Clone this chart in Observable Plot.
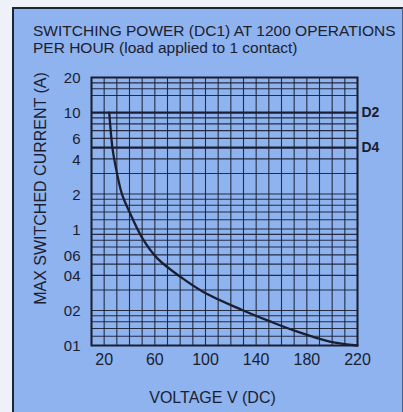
<!DOCTYPE html>
<html>
<head>
<meta charset="utf-8">
<script src="https://cdn.jsdelivr.net/npm/d3@7"></script>
<script src="https://cdn.jsdelivr.net/npm/@observablehq/plot@0.6"></script>
<style>
  html, body { margin: 0; padding: 0; background: #eef2f8; }
  #wrap { position: relative; width: 403px; height: 412px; overflow: hidden; font-family: "Liberation Sans", Arial, sans-serif; }
  #panel { position: absolute; left: 12px; top: 7px; width: 388px; height: 410px; background: #8eb3ee; border-left: 2px solid #1e2433; border-top: 2px solid #1e2433; border-right: 1px solid #46608a; }
  #title { position: absolute; left: 33px; top: 22px; font-size: 15.5px; line-height: 17px; color: #1c2030; white-space: nowrap; }
  #chart { position: absolute; left: 0; top: 0; }
</style>
</head>
<body>
<div id="wrap">
  <div id="panel"></div>
  <div id="chart"></div>
  <div id="title">SWITCHING POWER (DC1) AT 1200 OPERATIONS<br>PER HOUR (load applied to 1 contact)</div>
</div>
<script>
// Curve: max switched current (A) vs voltage (V DC)
const voltage = [24, 26.5, 28.5, 34, 40, 50, 62, 80, 98, 128, 151, 172, 198, 220];
const current = [10, 5, 3.7, 2.0, 1.4, 0.84, 0.56, 0.39, 0.29, 0.204, 0.161, 0.132, 0.108, 0.1];

// Axis ticks and labels (as printed)
const xTicks = [20, 60, 100, 140, 180, 220];
const yTicks = [0.1, 0.2, 0.4, 0.6, 1, 2, 4, 6, 10, 20];
const yTickLabels = ["01", "02", "04", "06", "1", "2", "4", "6", "10", "20"];

// Grid paper lines
const gridX = d3.range(10, 221, 10);
const gridY = [0.12, 0.14, 0.16, 0.18, 0.2, 0.3, 0.4, 0.5, 0.6, 0.7, 0.8, 0.9,
               1, 1.2, 1.4, 1.6, 1.8, 2, 3, 4, 6, 7, 8, 9, 14, 16, 18];

// Reference lines for relay types
const refValues = [10, 5];
const refLabels = ["D2", "D4"];

const curve = voltage.map((v, i) => ({v, a: current[i]}));
const ink = "#1a1e30";

const chart = Plot.plot({
  width: 403,
  height: 412,
  marginLeft: 91,
  marginRight: 46,
  marginTop: 77,
  marginBottom: 67,
  style: {background: "transparent", fontFamily: "'Liberation Sans', Arial, sans-serif", fontSize: "16px", color: ink, overflow: "visible"},
  x: {domain: [10, 220], label: null},
  y: {type: "log", domain: [0.1, 20], label: null, axis: null},
  marks: [
    Plot.ruleX(gridX, {stroke: ink, strokeWidth: 1.1, strokeOpacity: 0.9}),
    Plot.ruleY(gridY, {stroke: ink, strokeWidth: 1.1, strokeOpacity: 0.9}),
    Plot.ruleY(refValues, {stroke: ink, strokeWidth: 2.2}),
    Plot.text(refValues, {x: 220, y: d => d, text: (d, i) => refLabels[i], dx: 4, textAnchor: "start", fontWeight: "bold", fontSize: 14, fill: ink}),
    Plot.line(curve, {x: "v", y: "a", curve: "catmull-rom", stroke: ink, strokeWidth: 2.3}),
    Plot.frame({stroke: ink, strokeWidth: 2}),
    Plot.axisX(xTicks, {tickSize: 0, tickPadding: 8, fontSize: 16, label: null, fill: ink}),
    Plot.text(yTicks, {frameAnchor: "left", y: d => d, text: (d, i) => yTickLabels[i], textAnchor: "end", dx: -11, dy: 1, fontSize: 15, fill: ink}),
    Plot.text(["VOLTAGE V (DC)"], {frameAnchor: "bottom", dy: 57, dx: -12, fontSize: 16, fill: ink}),
    Plot.text(["MAX SWITCHED CURRENT (A)"], {frameAnchor: "left", textAnchor: "middle", lineAnchor: "middle", rotate: -90, dx: -51, dy: -23, fontSize: 16, fill: ink})
  ]
});
document.getElementById("chart").appendChild(chart);
</script>
</body>
</html>
